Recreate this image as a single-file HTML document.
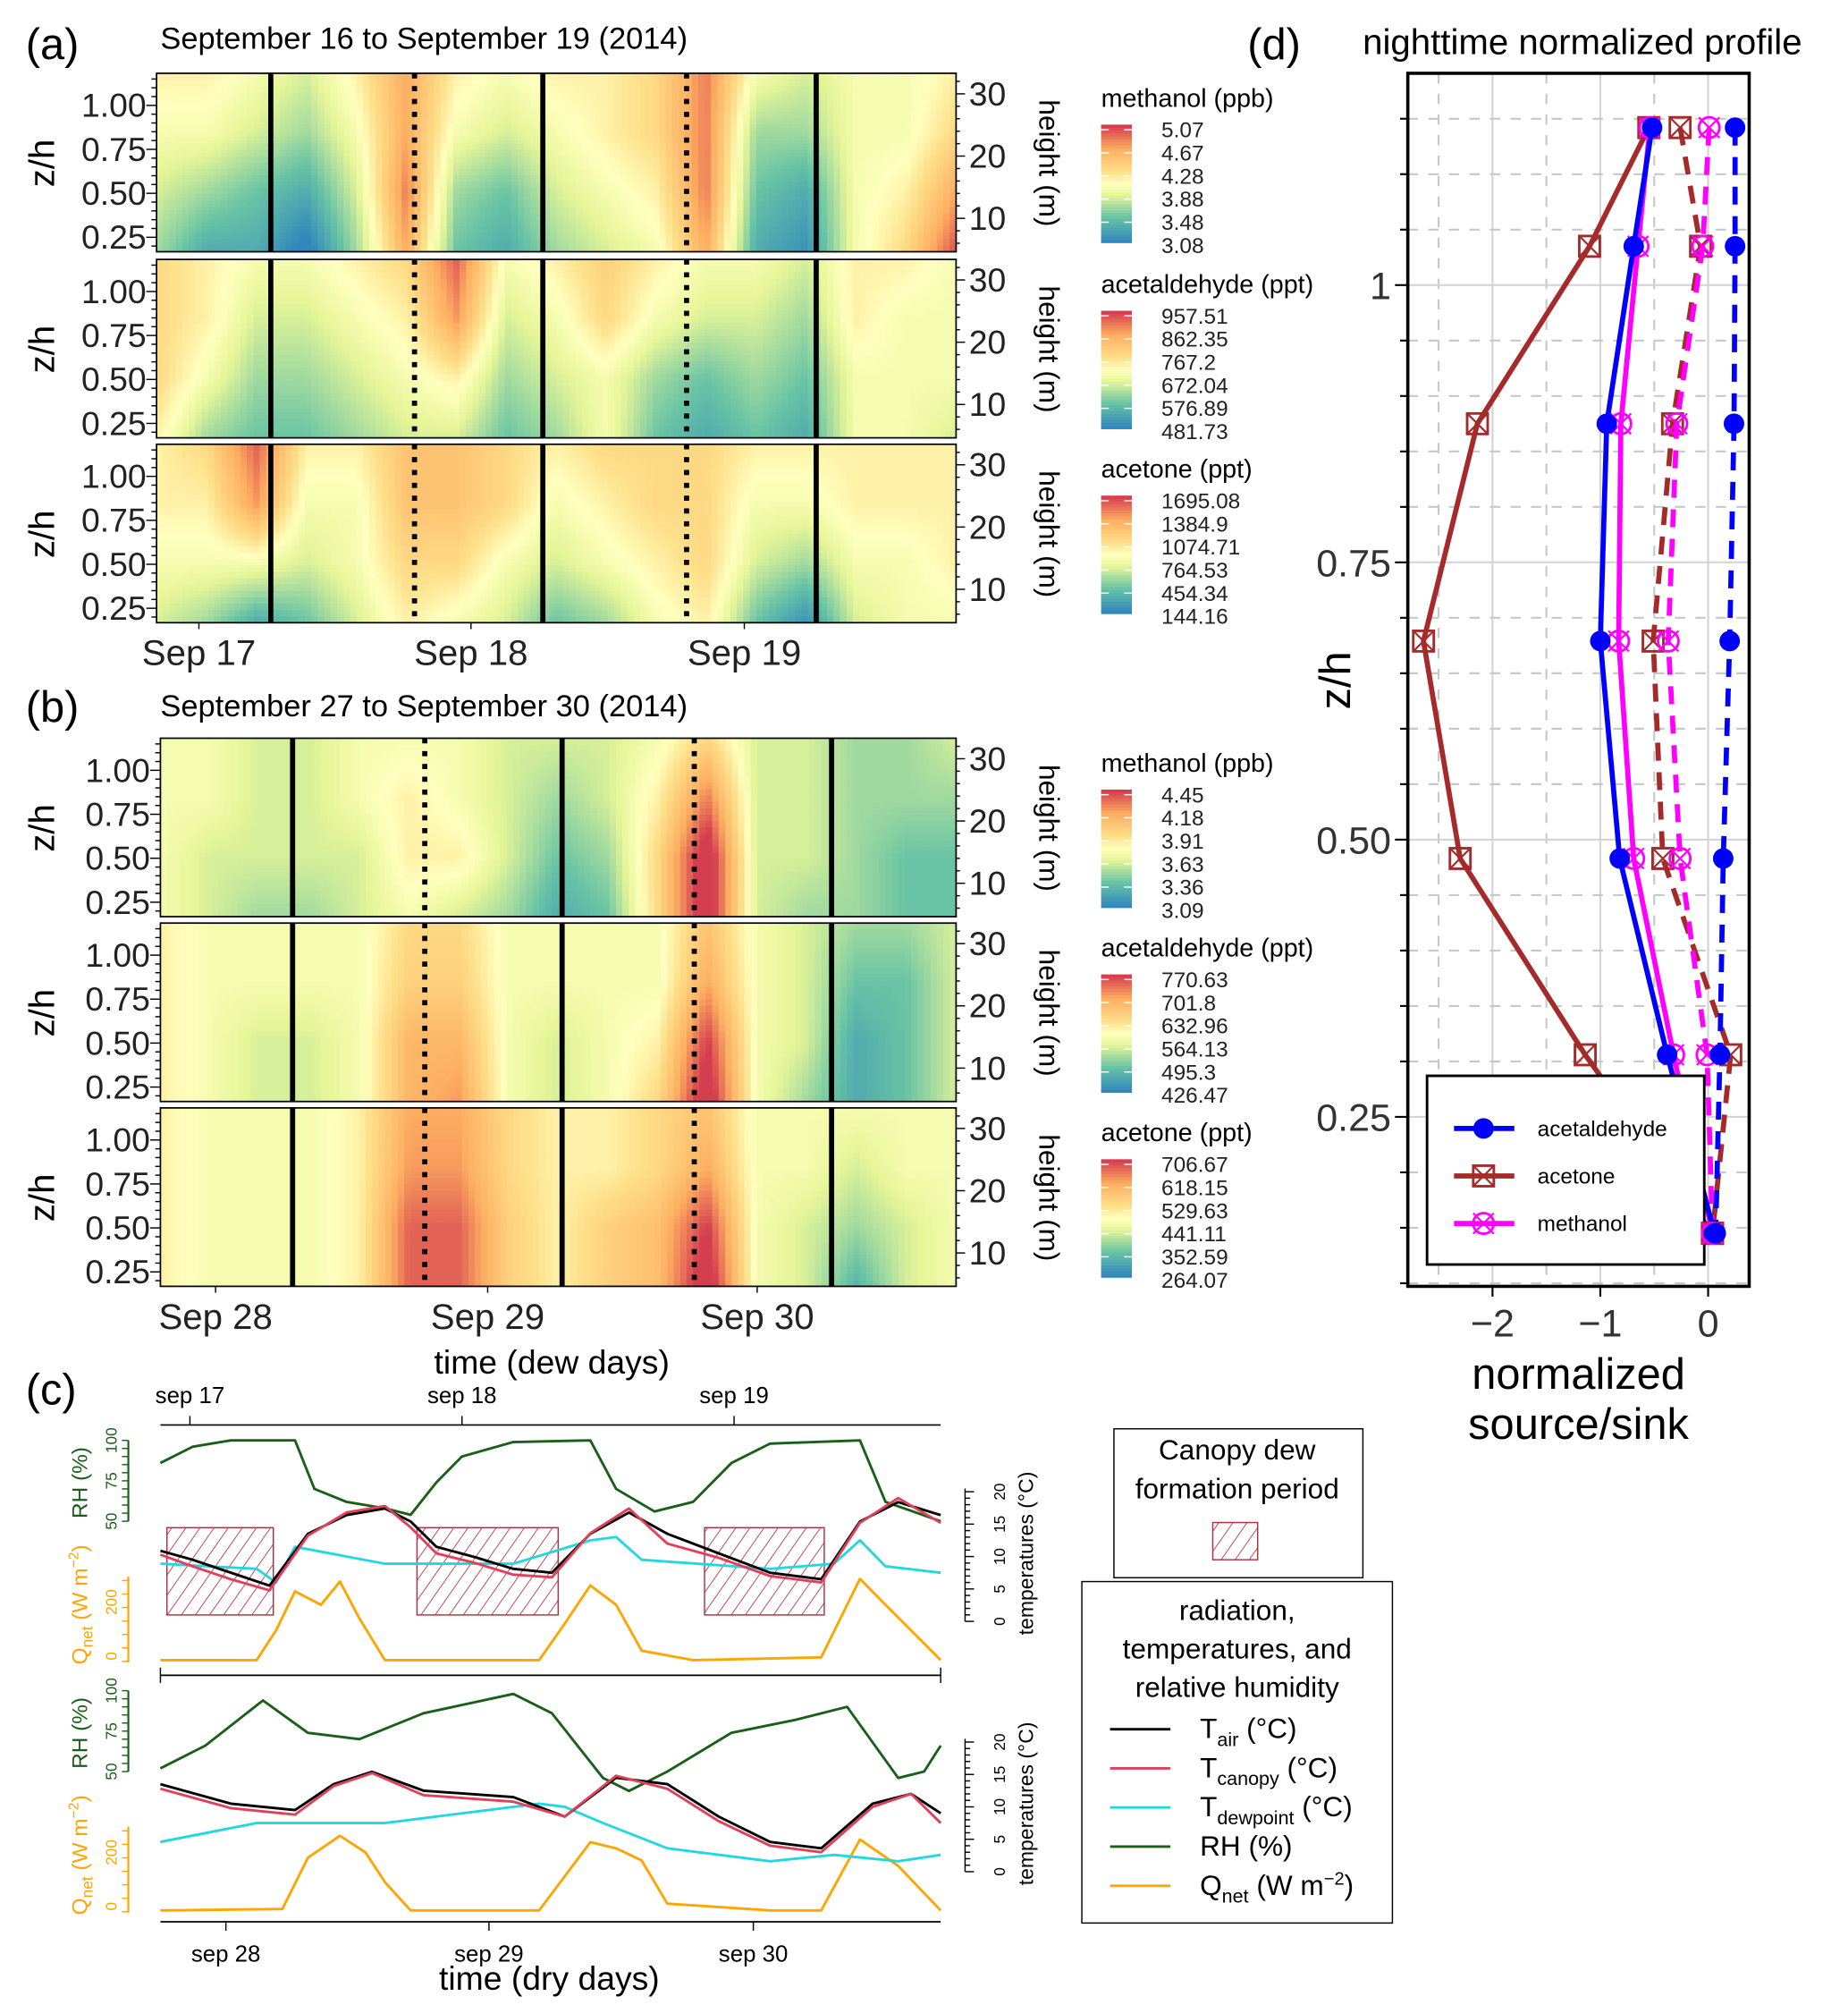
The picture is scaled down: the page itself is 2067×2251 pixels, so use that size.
<!DOCTYPE html>
<html><head><meta charset="utf-8"><style>
html,body{margin:0;padding:0;background:#fff;}
svg{display:block;font-family:"Liberation Sans",Arial,sans-serif;}
</style></head><body>
<svg id="fig" width="2067" height="2251" viewBox="0 0 1440 1568" xmlns="http://www.w3.org/2000/svg">
<defs>
<pattern id="hatch" patternUnits="userSpaceOnUse" width="9" height="9" patternTransform="rotate(35)">
<line x1="0" y1="0" x2="0" y2="9" stroke="#b03040" stroke-width="1.2"/></pattern>
</defs>
<rect x="0" y="0" width="1440" height="1568" fill="#fff"/>
<g id="heat"></g>
<g id="static">
<text x="20" y="46" font-size="34">(a)</text>
<text x="125" y="38" font-size="24">September 16 to September 19 (2014)</text>
<text x="20" y="562" font-size="34">(b)</text>
<text x="125" y="558" font-size="24">September 27 to September 30 (2014)</text>
<text x="430" y="1070" font-size="26" text-anchor="middle">time (dew days)</text>
<text x="20" y="1094" font-size="34">(c)</text>
<text x="972" y="46" font-size="34">(d)</text>
<text x="1233" y="42" font-size="28" text-anchor="middle">nighttime normalized profile</text>
</g>
<g id="ts"></g>
<g id="prof"></g>
</svg>
<script>
// ---------- heatmap data (normalized 0..1 of colour scale), rows bottom->top ----------
const a1Bottom=[.4,.3,.3,.2,.4,.7,.35,.3,.4,.45,.5,.7,.3,.25,.5,.6,.8];
const a1Mid=[.45,.4,.35,.3,.45,.75,.4,.35,.45,.5,.55,.75,.35,.3,.5,.55,.7];
const a1Up=[.5,.5,.45,.4,.5,.7,.5,.45,.5,.55,.6,.75,.4,.4,.5,.5,.6];
const a1Top=[.55,.55,.5,.45,.55,.7,.55,.5,.55,.55,.6,.75,.5,.45,.5,.5,.55];
const a2Bottom=[.55,.4,.35,.35,.4,.45,.45,.35,.4,.5,.35,.3,.35,.3,.5,.5,.45];
const a2Mid=[.6,.5,.4,.4,.45,.5,.55,.4,.45,.5,.4,.35,.4,.35,.5,.5,.5];
const a2Up=[.6,.55,.45,.45,.5,.55,.72,.45,.5,.6,.5,.45,.45,.4,.55,.5,.5];
const a2Top=[.6,.55,.5,.5,.55,.6,.78,.5,.55,.62,.55,.5,.5,.45,.55,.55,.5];
const a3Bottom=[.45,.4,.3,.35,.45,.55,.5,.45,.35,.4,.5,.55,.35,.25,.45,.5,.5];
const a3Mid=[.5,.5,.5,.45,.5,.6,.6,.5,.45,.5,.55,.6,.45,.4,.5,.5,.55];
const a3Up=[.55,.55,.72,.5,.5,.65,.65,.6,.5,.55,.6,.6,.5,.5,.55,.55,.55];
const a3Top=[.55,.6,.78,.55,.55,.65,.65,.6,.55,.6,.6,.6,.55,.55,.55,.55,.55];
const b1Bottom=[.5,.45,.4,.4,.45,.5,.45,.4,.3,.35,.6,.88,.45,.4,.4,.35,.35];
const b1Mid=[.5,.45,.45,.45,.45,.55,.55,.45,.35,.4,.6,.88,.45,.45,.4,.35,.35];
const b1Up=[.5,.5,.45,.45,.5,.55,.5,.45,.4,.45,.55,.75,.45,.45,.4,.4,.4];
const b1Top=[.5,.5,.45,.45,.5,.5,.5,.45,.45,.45,.5,.6,.45,.45,.4,.4,.45];
const b2Bottom=[.55,.5,.45,.45,.5,.68,.72,.5,.45,.5,.6,.88,.5,.4,.3,.35,.45];
const b2Mid=[.55,.5,.45,.45,.5,.68,.68,.5,.45,.5,.55,.82,.5,.45,.3,.35,.45];
const b2Up=[.55,.5,.5,.5,.5,.62,.62,.5,.5,.5,.5,.7,.5,.45,.35,.35,.45];
const b2Top=[.55,.5,.5,.5,.5,.6,.6,.5,.5,.5,.5,.65,.5,.45,.4,.4,.45];
const b3Bottom=[.55,.5,.5,.5,.55,.78,.78,.62,.55,.62,.66,.88,.5,.45,.32,.45,.5];
const b3Mid=[.55,.5,.5,.5,.55,.78,.78,.62,.55,.62,.66,.82,.5,.45,.4,.45,.5];
const b3Up=[.55,.5,.5,.5,.55,.72,.72,.6,.55,.55,.6,.7,.5,.5,.45,.5,.5];
const b3Top=[.55,.5,.5,.5,.55,.7,.7,.6,.55,.55,.6,.65,.5,.5,.5,.5,.5];
const legendNames=["methanol (ppb)","acetaldehyde (ppt)","acetone (ppt)","methanol (ppb)","acetaldehyde (ppt)","acetone (ppt)"];
const legendTicks=[["5.07","4.67","4.28","3.88","3.48","3.08"],["957.51","862.35","767.2","672.04","576.89","481.73"],["1695.08","1384.9","1074.71","764.53","454.34","144.16"],["4.45","4.18","3.91","3.63","3.36","3.09"],["770.63","701.8","632.96","564.13","495.3","426.47"],["706.67","618.15","529.63","441.11","352.59","264.07"]];
const zTicks=[1.00,0.75,0.50,0.25];
const zLabels=["1.00","0.75","0.50","0.25"];
const hTicks=[30,20,10];
const dewDayLabels=["Sep 17","Sep 18","Sep 19"];
const dryDayLabels=["Sep 28","Sep 29","Sep 30"];

// ---------- time series (c): t in days from panel left edge ----------
const dewRH_t=[0,.118,.259,.495,.566,.684,.825,.920,1.014,1.108,1.297,1.580,1.675,1.816,1.958,2.099,2.241,2.571,2.665,2.868];
const dewRH=[86,96,100,100,70,62,58,54,74,90,99,100,70,56,62,86,98,100,62,50];
const dewT_t=[0,.118,.259,.401,.542,.684,.825,.920,1.014,1.156,1.297,1.439,1.580,1.722,1.863,2.052,2.241,2.429,2.571,2.712,2.868];
const dewTair=[10.9,9.5,7.5,5.5,13.5,16.4,17.4,15.4,11.5,9.9,8.1,7.5,13.5,16.8,13.5,10.5,7.5,6.5,15.4,18.4,16.4];
const dewTcan=[10.3,8.5,6.5,4.8,13.2,16.8,17.8,14.5,10.5,9.0,7.2,6.8,13.6,17.4,12.0,9.8,7.0,6.0,15.2,19.0,15.2];
const dewTd_t=[0,.354,.425,.495,.825,1.297,1.580,1.675,1.769,2.241,2.476,2.571,2.665,2.868];
const dewTd=[8.9,8.1,6.0,11.5,8.9,8.9,12.5,13.0,9.5,8.1,8.9,12.5,8.5,7.5];
const dewQ_t=[0,.354,.425,.495,.590,.660,.731,.825,.967,1.392,1.486,1.580,1.675,1.769,1.958,2.429,2.571,2.665,2.759,2.868];
const dewQ=[-15,-15,95,240,190,276,140,-15,-15,-15,120,262,190,20,-15,-5,286,190,95,-15];
const dryRH_t=[0,.165,.377,.542,.731,.967,1.297,1.439,1.627,1.722,1.863,2.099,2.335,2.524,2.712,2.807,2.868];
const dryRH=[52,66,94,74,70,86,98,86,46,38,50,74,82,90,46,50,66];
const dryT_t=[0,.259,.495,.637,.778,.967,1.297,1.486,1.675,1.863,2.052,2.241,2.429,2.618,2.759,2.868];
const dryTair=[13.5,10.5,9.5,13.5,15.4,12.5,11.5,8.5,14.5,13.5,8.5,4.6,3.6,10.5,12,9];
const dryTcan=[12.8,9.8,8.8,13.2,15.2,11.8,10.8,8.5,14.8,12.8,7.8,4.0,3.0,10.0,12,7.5];
const dryTd_t=[0,.354,.825,1.392,1.486,1.627,1.863,2.241,2.476,2.712,2.868];
const dryTd=[4.6,7.5,7.5,10.5,10.0,7.5,3.6,1.6,2.6,1.6,2.6];
const dryQ_t=[0,.448,.542,.660,.754,.825,.920,1.392,1.580,1.675,1.769,1.863,2.241,2.429,2.571,2.712,2.868];
const dryQ=[-15,-10,180,262,200,90,-15,-15,238,215,170,10,-15,-15,248,150,-15];
const dewPeriods_start=[.024,.943,2.0];
const dewPeriods_end=[.415,1.462,2.44];

// ---------- profile (d) ----------
const zLevels=[1.142,1.035,0.875,0.679,0.483,0.306,0.145];
const acetSolid=[-0.52,-0.69,-0.94,-1.0,-0.82,-0.38,0.06];
const acetDash=[0.25,0.25,0.24,0.2,0.14,0.11,0.07];
const aceSolid=[-0.55,-1.1,-2.14,-2.64,-2.3,-1.14,0.04];
const aceDash=[-0.26,-0.07,-0.33,-0.51,-0.42,0.21,0.04];
const metSolid=[-0.54,-0.65,-0.81,-0.83,-0.69,-0.32,0.04];
const metDash=[0.01,-0.05,-0.29,-0.37,-0.26,-0.01,0.04];
const profXTicks=[-2,-1,0];
const profYTicks=[1,0.75,0.5,0.25];
const profYLabels=["1","0.75","0.50","0.25"];

const NS="http://www.w3.org/2000/svg";
function mk(tag,parent,attrs){const e=document.createElementNS(NS,tag);for(const k in attrs)e.setAttribute(k,attrs[k]);parent.appendChild(e);return e;}
const stops=[[0,[50,136,189]],[0.2,[102,194,165]],[0.4,[230,245,152]],[0.5,[255,255,191]],[0.6,[254,224,139]],[0.8,[253,174,97]],[1,[213,62,79]]];
function col(v){v=Math.max(0,Math.min(1,v));for(let i=1;i<stops.length;i++){if(v<=stops[i][0]){const a=stops[i-1],b=stops[i];const f=(v-a[0])/(b[0]-a[0]);const c=a[1].map((x,j)=>Math.round(x+(b[1][j]-x)*f));return `rgb(${c})`;}}return "rgb(213,62,79)";}
const contrast=v=>0.46+(v-0.5)*1.7;

const heat=document.getElementById('heat');
const panels=[
 {x0:122,x1:745,y0:57,rows:[a1Bottom,a1Mid,a1Up,a1Top],solid:[211,423,636],dot:[323,535]},
 {x0:122,x1:745,y0:202,rows:[a2Bottom,a2Mid,a2Up,a2Top],solid:[211,423,636],dot:[323,535]},
 {x0:122,x1:745,y0:346,rows:[a3Bottom,a3Mid,a3Up,a3Top],solid:[211,423,636],dot:[323,535]},
 {x0:125,x1:745,y0:575,rows:[b1Bottom,b1Mid,b1Up,b1Top],solid:[228,438,648],dot:[331,541]},
 {x0:125,x1:745,y0:719,rows:[b2Bottom,b2Mid,b2Up,b2Top],solid:[228,438,648],dot:[331,541]},
 {x0:125,x1:745,y0:863,rows:[b3Bottom,b3Mid,b3Up,b3Top],solid:[228,438,648],dot:[331,541]}];
const PH=139;
panels.forEach((p,pi)=>{
 const g=mk('g',heat,{});
 
 
 const nx=124,ny=28,w=(p.x1-p.x0)/nx,h=PH/ny;
 const ncol=p.rows[0].length;
 for(let i=0;i<nx;i++){for(let j=0;j<ny;j++){
  const u=(i+0.5)/nx*(ncol-1);const vv=(1-(j+0.5)/ny)*3;
  const i0=Math.min(Math.floor(u),ncol-2),fu=u-i0,j0=Math.min(Math.floor(vv),2),fv=vv-j0;
  const r0=p.rows[j0],r1=p.rows[j0+1];
  const val=(r0[i0]*(1-fu)+r0[i0+1]*fu)*(1-fv)+(r1[i0]*(1-fu)+r1[i0+1]*fu)*fv;
  const c=mk('rect',g,{x:(p.x0+i*w).toFixed(2),y:(p.y0+j*h).toFixed(2),width:(w+0.6).toFixed(2),height:(h+0.6).toFixed(2),fill:col(contrast(val))});
  
  
 }}
 const fr=mk('rect',g,{x:p.x0,y:p.y0,width:p.x1-p.x0,height:PH,fill:'none',stroke:'#000','stroke-width':1.2});
 
 
 p.solid.forEach(x=>{const l=mk('line',g,{x1:x,x2:x,y1:p.y0,y2:p.y0+PH,stroke:'#000','stroke-width':4});
  
  });
 p.dot.forEach(x=>{const l=mk('line',g,{x1:x,x2:x,y1:p.y0,y2:p.y0+PH,stroke:'#000','stroke-width':4,'stroke-dasharray':'4 6'});
  
  });
 const zy=z=>p.y0+25+(1-z)*137;
 for(let k=0;k<=20;k++){const z=0.15+k*0.05;const y=zy(z);if(y<p.y0||y>p.y0+PH)continue;
  const l=mk('line',g,{x1:p.x0-(k%5==2?8:4),x2:p.x0,y1:y,y2:y,stroke:'#000','stroke-width':1});
  
  }
 zTicks.forEach((z,k)=>{const t=mk('text',g,{x:p.x0-8,y:zy(z)+9,'font-size':26,'text-anchor':'end',fill:'#222'});t.textContent=zLabels[k];
  
  });
 const zt=mk('text',g,{x:0,y:0,'font-size':28,'text-anchor':'middle',transform:`translate(42,${p.y0+70}) rotate(-90)`});zt.textContent='z/h';
 
 
 const hy=m=>p.y0+16+(30-m)*4.85;
 for(let m=4;m<=32;m+=2){const y=hy(m);if(y<p.y0||y>p.y0+PH)continue;
  const l=mk('line',g,{x1:p.x1,x2:p.x1+(m%10==0?7:3),y1:y,y2:y,stroke:'#000','stroke-width':1});
  
  }
 hTicks.forEach(m=>{const t=mk('text',g,{x:p.x1+10,y:hy(m)+9,'font-size':26,fill:'#222'});t.textContent=m;
  
  });
 const ht=mk('text',g,{x:0,y:0,'font-size':22,'text-anchor':'middle',transform:`translate(810,${p.y0+70}) rotate(90)`});ht.textContent='height (m)';
 
 
 const lt=mk('text',g,{x:858,y:p.y0+26,'font-size':20});lt.textContent=legendNames[pi];
 
 
 for(let k=0;k<40;k++){const r=mk('rect',g,{x:858,y:p.y0+40+k*2.3,width:24,height:2.6,fill:col(1-k/39)});
  
  }
 legendTicks[pi].forEach((s,k)=>{const y=p.y0+44+k*18;
  const t=mk('text',g,{x:905,y:y+6,'font-size':17,fill:'#222'});t.textContent=s;
  
  
  [858,876].forEach(x=>{const l=mk('line',g,{x1:x,x2:x+6,y1:y,y2:y,stroke:'#fff','stroke-width':1});
   
   });});
 if(pi==2||pi==5){const labs=pi==2?dewDayLabels:dryDayLabels;const xs=pi==2?[155,367,580]:[168,380,590];
  labs.forEach((s,k)=>{const t=mk('text',g,{x:xs[k],y:p.y0+PH+33,'font-size':28,'text-anchor':'middle',fill:'#222'});t.textContent=s;
   
   
   const l=mk('line',g,{x1:xs[k],x2:xs[k],y1:p.y0+PH,y2:p.y0+PH+5,stroke:'#000'});
   
   });}
});

// ---------- panel (c) ----------
const ts=document.getElementById('ts');
const X0=125,DAY=212;
const tx=t=>X0+t*DAY;
function poly(g,ts_,vs,fy,color,name,w){const pts=ts_.map((t,i)=>tx(t).toFixed(1)+','+fy(vs[i]).toFixed(1)).join(' ');
 const p=mk('polyline',g,{points:pts,fill:'none',stroke:color,'stroke-width':w||2,'stroke-linejoin':'round'});
 
 }
function sub(off,d,isDew){
 const g=mk('g',ts,{});
 
 
 const rhY=v=>1185+off-(v-50)*1.26, tY=v=>1263+off-v*5.05, qY=v=>1290+off-v*0.21;
 if(isDew){dewPeriods_start.forEach((s,i)=>{const r=mk('rect',g,{x:tx(s),y:1190,width:(dewPeriods_end[i]-s)*DAY,height:68,fill:'url(#hatch)',stroke:'#b03040','stroke-width':1});
  
  });}
 poly(g,d.rht,d.rh,rhY,'#1a5e1a','rh-line');
 poly(g,d.qt,d.q,qY,'#ffa500','qnet-line');
 poly(g,d.tdt,d.td,tY,'#22d8e0','tdew-line');
 poly(g,d.tt,d.tair,tY,'#000','tair-line');
 poly(g,d.tt,d.tcan,tY,'#e0405a','tcanopy-line');
 const ax=mk('line',g,{x1:100,x2:100,y1:rhY(100),y2:rhY(50),stroke:'#1a5e1a','stroke-width':1.5});
 
 
 for(let v=50;v<=100;v+=5){const l=mk('line',g,{x1:95,x2:100,y1:rhY(v),y2:rhY(v),stroke:'#1a5e1a'});
  
  }
 [50,75,100].forEach(v=>{const t=mk('text',g,{x:0,y:0,'font-size':12,fill:'#1a5e1a','text-anchor':'middle',transform:`translate(91,${rhY(v)}) rotate(-90)`});t.textContent=v;
  
  });
 const rt=mk('text',g,{x:0,y:0,'font-size':17,fill:'#1a5e1a','text-anchor':'middle',transform:`translate(68,${1155+off}) rotate(-90)`});rt.textContent='RH (%)';
 
 
 const qa=mk('line',g,{x1:100,x2:100,y1:1228+off,y2:1295+off,stroke:'#ffa500','stroke-width':1.5});
 
 
 for(let v=-20;v<=300;v+=50){const l=mk('line',g,{x1:95,x2:100,y1:qY(v),y2:qY(v),stroke:'#ffa500'});
  
  }
 [0,200].forEach(v=>{const t=mk('text',g,{x:0,y:0,'font-size':12,fill:'#ffa500','text-anchor':'middle',transform:`translate(91,${qY(v)}) rotate(-90)`});t.textContent=v;
  
  });
 const qt=mk('text',g,{x:0,y:0,'font-size':17,fill:'#ffa500','text-anchor':'middle',transform:`translate(68,${1250+off}) rotate(-90)`});
 qt.innerHTML='Q<tspan font-size="12" dy="4">net</tspan><tspan dy="-4"> (W m</tspan><tspan font-size="11" dy="-7">−2</tspan><tspan dy="7">)</tspan>';
 
 
 const ra=mk('line',g,{x1:752,x2:752,y1:tY(20.5),y2:tY(0),stroke:'#000'});
 
 
 for(let v=0;v<=20;v++){const l=mk('line',g,{x1:752,x2:752+(v%5==0?7:4),y1:tY(v),y2:tY(v),stroke:'#000'});
  
  }
 [0,5,10,15,20].forEach(v=>{const t=mk('text',g,{x:0,y:0,'font-size':12,'text-anchor':'middle',transform:`translate(783,${tY(v)}) rotate(-90)`});t.textContent=v;
  
  });
 const tt=mk('text',g,{x:0,y:0,'font-size':16,'text-anchor':'middle',transform:`translate(805,${1210+off}) rotate(-90)`});tt.textContent='temperatures (°C)';
 
 
}
sub(0,{rht:dewRH_t,rh:dewRH,tt:dewT_t,tair:dewTair,tcan:dewTcan,tdt:dewTd_t,td:dewTd,qt:dewQ_t,q:dewQ},true);
sub(195,{rht:dryRH_t,rh:dryRH,tt:dryT_t,tair:dryTair,tcan:dryTcan,tdt:dryTd_t,td:dryTd,qt:dryQ_t,q:dryQ},false);
[[1110,'top-time-axis'],[1305,'panel-separator-axis'],[1497,'bottom-time-axis']].forEach(a=>{const l=mk('line',ts,{x1:125,x2:733,y1:a[0],y2:a[0],stroke:'#000','stroke-width':1.2});
 
 });
[125,733].forEach(x=>{const l=mk('line',ts,{x1:x,x2:x,y1:1299,y2:1311,stroke:'#000'});
 
 });
const topLab=["sep 17","sep 18","sep 19"],topX=[148,360,572];
topLab.forEach((s,i)=>{const t=mk('text',ts,{x:topX[i],y:1093,'font-size':18,'text-anchor':'middle'});t.textContent=s;
 
 
 const l=mk('line',ts,{x1:topX[i],x2:topX[i],y1:1103,y2:1110,stroke:'#000'});
 
 });
const botLab=["sep 28","sep 29","sep 30"],botX=[176,381,587];
botLab.forEach((s,i)=>{const t=mk('text',ts,{x:botX[i],y:1528,'font-size':18,'text-anchor':'middle'});t.textContent=s;
 
 
 const l=mk('line',ts,{x1:botX[i],x2:botX[i],y1:1497,y2:1504,stroke:'#000'});
 
 });
const dryT=mk('text',ts,{x:428,y:1550,'font-size':26,'text-anchor':'middle'});dryT.textContent='time (dry days)';


const dl=mk('g',ts,{});


mk('rect',dl,{x:868,y:1113,width:194,height:116,fill:'#fff',stroke:'#000','stroke-width':1});
[["Canopy dew",1137],["formation period",1167]].forEach(a=>{const t=mk('text',dl,{x:964,y:a[1],'font-size':22,'text-anchor':'middle'});t.textContent=a[0];
 
 });
const dsw=mk('rect',dl,{x:945,y:1186,width:35,height:29,fill:'url(#hatch)',stroke:'#b03040'});


const sl=mk('g',ts,{});


mk('rect',sl,{x:843,y:1232,width:242,height:266,fill:'#fff',stroke:'#000','stroke-width':1});
[["radiation,",1262],["temperatures, and",1292],["relative humidity",1322]].forEach(a=>{const t=mk('text',sl,{x:964,y:a[1],'font-size':22,'text-anchor':'middle'});t.textContent=a[0];
 
 });
const legEntries=[['#000','T<tspan font-size="15" dy="6">air</tspan><tspan dy="-6"> (°C)</tspan>'],['#e0405a','T<tspan font-size="15" dy="6">canopy</tspan><tspan dy="-6"> (°C)</tspan>'],['#22d8e0','T<tspan font-size="15" dy="6">dewpoint</tspan><tspan dy="-6"> (°C)</tspan>'],['#1a5e1a','RH (%)'],['#ffa500','Q<tspan font-size="15" dy="6">net</tspan><tspan dy="-6"> (W m</tspan><tspan font-size="14" dy="-8">−2</tspan><tspan dy="8">)</tspan>']];
legEntries.forEach((e,i)=>{const y=1347+i*30.5;
 const l=mk('line',sl,{x1:865,x2:912,y1:y,y2:y,stroke:e[0],'stroke-width':2});
 
 
 const t=mk('text',sl,{x:935,y:y+7,'font-size':22});t.innerHTML=e[1];
 
 });

// ---------- panel (d) ----------
const pr=document.getElementById('prof');
const PX0=1097,PX1=1363,PY0=57,PY1=1002;
const px=v=>1331+v*84, py=z=>222+(1-z)*864;
mk('rect',pr,{x:PX0,y:PY0,width:PX1-PX0,height:PY1-PY0,fill:'#fff'});
[-2.5,-1.5,-0.5].forEach(v=>{const l=mk('line',pr,{x1:px(v),x2:px(v),y1:PY0,y2:PY1,stroke:'#c8c8c8','stroke-width':1.5,'stroke-dasharray':'8 8'});
 
 });
profXTicks.forEach(v=>{const l=mk('line',pr,{x1:px(v),x2:px(v),y1:PY0,y2:PY1,stroke:'#d4d4d4','stroke-width':1.5});
 
 });
for(let k=2;k<=23;k++){const z=k*0.05;const y=py(z);if(y<PY0||y>PY1)continue;const major=(k%5==0);
 const l=mk('line',pr,{x1:PX0,x2:PX1,y1:y,y2:y,stroke:major?'#d4d4d4':'#c8c8c8','stroke-width':1.5,'stroke-dasharray':major?'none':'8 8'});
 
 
 const tk=mk('line',pr,{x1:PX0-(major?10:6),x2:PX0,y1:y,y2:y,stroke:'#000','stroke-width':1.5});
 
 }
// legend drawn beneath series (series points overlap it at the right edge)
const pl=mk('g',pr,{});


const series=[
 {v:aceSolid,c:'#a52a2a',d:'none',m:'sq',n:'acetone-solid'},
 {v:aceDash,c:'#a52a2a',d:'14 9',m:'sq',n:'acetone-dashed'},
 {v:metSolid,c:'#ff00ff',d:'none',m:'cx',n:'methanol-solid'},
 {v:metDash,c:'#ff00ff',d:'14 9',m:'cx',n:'methanol-dashed'},
 {v:acetSolid,c:'#0000ff',d:'none',m:'dot',n:'acetaldehyde-solid'},
 {v:acetDash,c:'#0000ff',d:'14 9',m:'dot',n:'acetaldehyde-dashed'}];
function marker(g,type,x,y,c,name){
 const mg=mk('g',g,{});
 
 
 if(type=='dot'){mk('circle',mg,{cx:x,cy:y,r:8,fill:c});}
 else if(type=='sq'){mk('rect',mg,{x:x-8,y:y-8,width:16,height:16,fill:'none',stroke:c,'stroke-width':2});mk('path',mg,{d:`M${x-8} ${y-8}L${x+8} ${y+8}M${x+8} ${y-8}L${x-8} ${y+8}`,stroke:c,'stroke-width':1.5});}
 else {mk('circle',mg,{cx:x,cy:y,r:8,fill:'none',stroke:c,'stroke-width':2});mk('path',mg,{d:`M${x-8} ${y-8}L${x+8} ${y+8}M${x+8} ${y-8}L${x-8} ${y+8}`,stroke:c,'stroke-width':1.5});}
}
const sg=mk('g',pr,{});


series.forEach(s=>{
 const g=mk('g',sg,{});
 
 
 const pts=s.v.map((v,i)=>px(v).toFixed(1)+','+py(zLevels[i]).toFixed(1)).join(' ');
 const l=mk('polyline',g,{points:pts,fill:'none',stroke:s.c,'stroke-width':4,'stroke-dasharray':s.d});
 
 
 s.v.forEach((v,i)=>marker(g,s.m,px(v),py(zLevels[i]),s.c,s.n+'-marker'));
});
mk('rect',pl,{x:1112,y:838,width:216,height:147,fill:'#fff',stroke:'#000','stroke-width':2});
pr.appendChild(pl);
[['acetaldehyde','#0000ff','dot'],['acetone','#a52a2a','sq'],['methanol','#ff00ff','cx']].forEach((e,i)=>{const y=879+i*37;
 const l=mk('line',pl,{x1:1133,x2:1180,y1:y,y2:y,stroke:e[1],'stroke-width':4});
 
 
 marker(pl,e[2],1156,y,e[1],'profile-legend-marker');
 const t=mk('text',pl,{x:1198,y:y+6,'font-size':17});t.textContent=e[0];
 
 });
// redraw bottom markers above legend
series.forEach(s=>{const i=zLevels.length-1;marker(pr,s.m,px(s.v[i]),py(zLevels[i]),s.c,s.n+'-marker-bottom');});
const pb=mk('rect',pr,{x:PX0,y:PY0,width:PX1-PX0,height:PY1-PY0,fill:'none',stroke:'#000','stroke-width':2.5});


profYTicks.forEach((z,i)=>{const t=mk('text',pr,{x:1084,y:py(z)+11,'font-size':30,'text-anchor':'end',fill:'#333'});t.textContent=profYLabels[i];
 
 });
profXTicks.forEach(v=>{const t=mk('text',pr,{x:px(v),y:1041,'font-size':30,'text-anchor':'middle',fill:'#333'});t.textContent=(v<0?'−':'')+Math.abs(v);
 
 
 const l=mk('line',pr,{x1:px(v),x2:px(v),y1:PY1,y2:PY1+8,stroke:'#000','stroke-width':1.5});
 
 });
const pzt=mk('text',pr,{x:0,y:0,'font-size':34,'text-anchor':'middle',transform:'translate(1052,530) rotate(-90)'});pzt.textContent='z/h';


[["normalized",1082],["source/sink",1121]].forEach(a=>{const t=mk('text',pr,{x:1230,y:a[1],'font-size':34,'text-anchor':'middle'});t.textContent=a[0];
 
 });
</script>
</body></html>
